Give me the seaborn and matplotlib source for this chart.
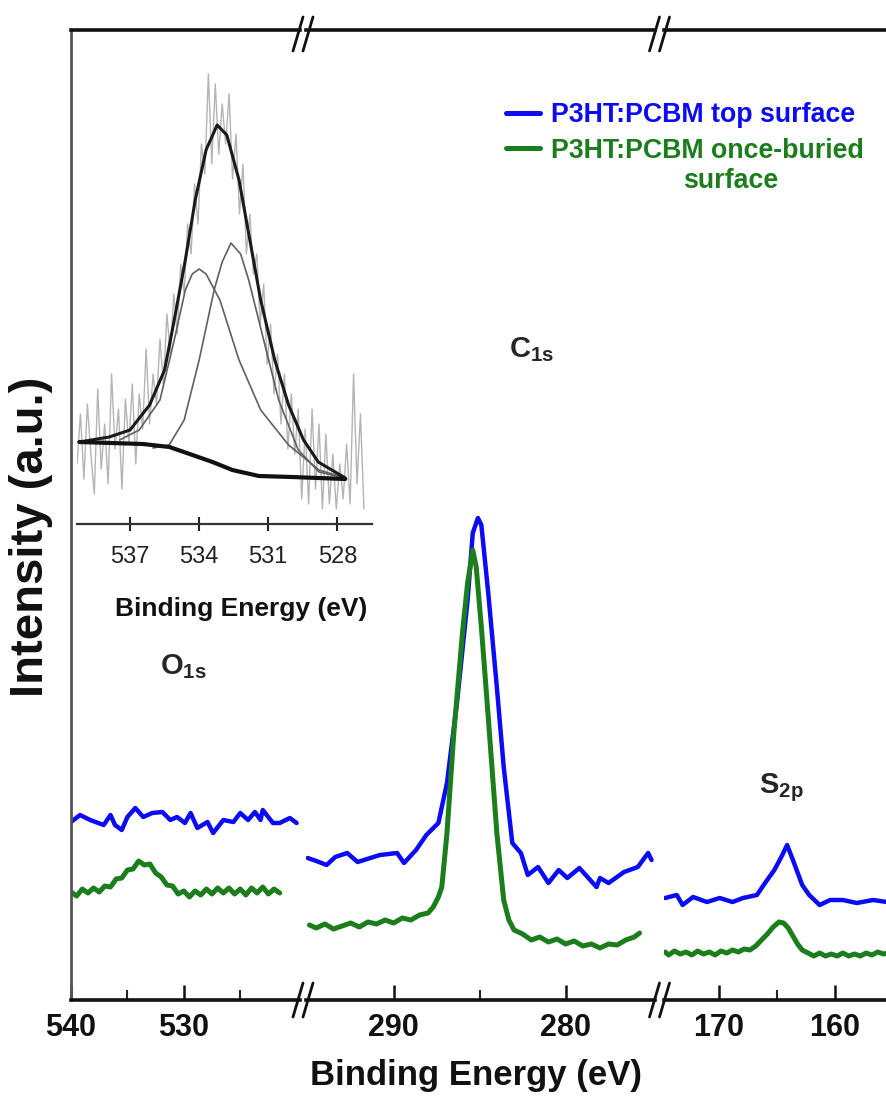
import numpy as np
import matplotlib
matplotlib.use("Agg")
import matplotlib.pyplot as plt
from matplotlib.lines import Line2D
import seaborn as sns

# ---------------- data (binding energy in eV, intensity in a.u.) ----------------
# O1s region
o1s_top_be = [540.0, 539.2, 538.3, 537.1, 536.5, 536.1, 535.5, 535.0, 534.3, 533.6, 532.8, 531.9,
              531.2, 530.6, 529.9, 529.4, 528.8, 527.9, 527.4, 526.5, 525.6, 525.0, 524.3, 523.7,
              523.2, 523.0, 522.1, 521.5, 520.6, 520.0]
o1s_top_int = [178, 185, 180, 175, 185, 175, 170, 183, 192, 183, 187, 188,
               180, 183, 177, 187, 172, 178, 167, 180, 178, 187, 180, 188,
               180, 190, 177, 177, 182, 177]
o1s_bur_be = [540.0, 539.5, 539.0, 538.5, 538.0, 537.5, 537.0, 536.5, 536.0, 535.5, 535.0, 534.5,
              534.0, 533.5, 533.0, 532.5, 532.0, 531.5, 531.0, 530.5, 530.0, 529.5, 529.0, 528.5,
              528.0, 527.5, 527.0, 526.5, 526.0, 525.5, 525.0, 524.5, 524.0, 523.5, 523.0, 522.5,
              522.0, 521.5]
o1s_bur_int = [108, 104, 111, 107, 112, 108, 114, 113, 121, 122, 130, 131,
               139, 135, 136, 127, 123, 115, 114, 106, 109, 103, 109, 105,
               111, 106, 112, 107, 112, 106, 111, 105, 112, 107, 113, 106,
               111, 107]
# C1s region
c1s_top_be = [295.0, 294.5, 293.9, 293.4, 292.7, 292.1, 290.8, 289.8, 289.4, 288.7, 288.1, 287.4,
              286.9, 286.3, 285.7, 285.4, 285.1, 284.9, 284.5, 284.0, 283.6, 283.1, 282.6, 282.2,
              281.6, 281.0, 280.4, 279.9, 279.2, 278.2, 278.0, 277.5, 276.6, 275.8, 275.2, 275.0]
c1s_top_int = [142, 139, 135, 143, 147, 138, 145, 147, 137, 150, 165, 177,
               217, 300, 400, 467, 482, 475, 407, 313, 233, 157, 147, 125,
               133, 117, 130, 122, 132, 113, 122, 117, 128, 133, 147, 140]
c1s_bur_be = [294.9, 294.5, 294.0, 293.5, 293.0, 292.5, 292.0, 291.5, 291.0, 290.5, 290.0, 289.5,
              289.0, 288.5, 288.0, 287.7, 287.4, 287.2, 286.9, 286.5, 286.0, 285.7, 285.4, 285.2,
              284.9, 284.5, 284.0, 283.6, 283.3, 283.0, 282.5, 282.0, 281.5, 281.0, 280.5, 280.0,
              279.5, 279.0, 278.5, 278.0, 277.5, 277.0, 276.5, 276.0, 275.7]
c1s_bur_int = [75, 72, 76, 71, 74, 77, 73, 78, 76, 80, 77, 82,
               80, 85, 87, 93, 103, 113, 167, 267, 367, 417, 450, 433,
               373, 283, 167, 100, 80, 70, 66, 60, 63, 58, 61, 56,
               59, 54, 56, 52, 56, 55, 60, 63, 67]
# S2p region
s2p_top_be = [174.6, 173.6, 173.1, 172.2, 171.0, 169.9, 168.8, 167.9, 166.7, 166.0, 165.2, 164.6,
              164.1, 163.6, 162.8, 162.2, 161.3, 160.4, 159.3, 158.1, 156.7, 155.5]
s2p_top_int = [102, 105, 95, 103, 98, 102, 98, 102, 105, 117, 130, 143,
               155, 140, 115, 105, 95, 100, 100, 97, 100, 98]
s2p_bur_be = [174.6, 174.3, 173.8, 173.3, 172.8, 172.3, 171.8, 171.3, 170.8, 170.3, 169.8, 169.3,
              168.8, 168.3, 167.8, 167.3, 166.8, 166.3, 165.8, 165.3, 164.8, 164.4, 164.0, 163.6,
              163.2, 162.8, 162.3, 161.8, 161.3, 160.8, 160.3, 159.8, 159.3, 158.8, 158.3, 157.8,
              157.3, 156.8, 156.3, 155.8, 155.4]
s2p_bur_int = [48, 45, 49, 46, 48, 45, 49, 46, 48, 45, 49, 47,
               50, 48, 51, 50, 54, 60, 66, 73, 78, 77, 72, 64,
               56, 50, 47, 44, 47, 44, 46, 44, 47, 44, 46, 44,
               47, 45, 48, 46, 47]

# Inset: O1s high-resolution spectrum with fit
raw_be_start, raw_be_stop = 539.3, 526.85
raw_int = [60, 110, 45, 120, 70, 30, 135, 55, 100, 40, 150, 75, 115, 35, 125, 80, 140, 60, 130, 95,
           175, 100, 150, 120, 185, 140, 210, 170, 230, 190, 260, 230, 300, 270, 340, 300, 380, 350,
           450, 360, 440, 370, 420, 380, 430, 345, 390, 310, 360, 270, 310, 250, 270, 200, 240, 160,
           200, 130, 170, 100, 150, 75, 130, 70, 115, 25, 95, 20, 115, 35, 100, 15, 90, 20, 70, 15,
           60, 25, 80, 20, 150, 40, 110, 15]
env_be = [539.2, 537.9, 537.0, 536.15, 535.5, 535.08, 534.6, 534.17, 533.7, 533.22, 532.8,
          532.27, 531.8, 531.33, 530.72, 530.12, 529.47, 528.83, 527.66]
env_int = [82, 87, 94, 119, 154, 204, 264, 324, 374, 399, 389, 344, 284, 224, 164, 119, 84, 62, 46]
comp1_be = [537.45, 536.6, 535.7, 535.08, 534.6, 534.3, 534.0, 533.7, 533.1, 532.27, 531.33,
            530.12, 528.8, 527.66]
comp1_int = [84, 94, 124, 184, 234, 250, 255, 250, 224, 164, 114, 79, 54, 46]
comp2_be = [536.0, 535.3, 534.65, 534.0, 533.35, 533.0, 532.62, 532.2, 531.85, 531.2, 530.55,
            529.7, 528.8, 527.66]
comp2_int = [76, 79, 104, 164, 234, 262, 281, 270, 244, 184, 124, 74, 52, 46]
bg_be = [539.2, 536.44, 535.29, 534.29, 533.42, 532.56, 531.41, 529.98, 527.66]
bg_int = [82, 80, 77, 69, 62, 54, 48, 47, 45]

main_ticks = [[540, 530], [290, 280], [170, 160]]
minor_ticks = [[535, 525], [285], [165]]
inset_ticks = [537, 534, 531, 528]
series_labels = ["P3HT:PCBM top surface", "P3HT:PCBM once-buried"]
peak_labels = [r"$\mathbf{O_{1s}}$", r"$\mathbf{C_{1s}}$", r"$\mathbf{S_{2p}}$"]

# ---------------- style ----------------
sns.set_theme(style="white")
plt.rcParams["font.family"] = ["Liberation Sans", "DejaVu Sans"]
plt.rcParams["mathtext.fontset"] = "custom"
plt.rcParams["mathtext.bf"] = "Liberation Sans:bold"
plt.rcParams["mathtext.rm"] = "Liberation Sans"
plt.rcParams["mathtext.it"] = "Liberation Sans:italic"

BLUE = "#0b0bf5"
GREEN = "#1b7d1b"
W, H = 887, 1107

def fx(x):
    return x / W

def fy(y):
    return 1 - y / H

fig = plt.figure(figsize=(W / 100, H / 100), dpi=100)

panels = [(71, 300), (306, 655), (664, 887)]
xlims = [(540.0, 519.7), (295.1, 274.8), (174.7, 155.5)]
top_px, bot_px = 30, 1000
data = [
    (o1s_top_be, o1s_top_int, o1s_bur_be, o1s_bur_int),
    (c1s_top_be, c1s_top_int, c1s_bur_be, c1s_bur_int),
    (s2p_top_be, s2p_top_int, s2p_bur_be, s2p_bur_int),
]
axes = []
for i, ((l, r), xl, d) in enumerate(zip(panels, xlims, data)):
    ax = fig.add_axes([fx(l), fy(bot_px), (r - l) / W, (bot_px - top_px) / H])
    ax.set_facecolor("none")
    tb, ti, bb, bi = d
    sns.lineplot(x=tb, y=ti, ax=ax, color=BLUE, lw=3.2, sort=False, estimator=None)
    sns.lineplot(x=bb, y=bi, ax=ax, color=GREEN, lw=3.6, sort=False, estimator=None)
    ax.set_xlim(*xl)
    ax.set_ylim(0, 970)
    ax.set_yticks([])
    ax.set_xticks(main_ticks[i])
    ax.set_xticks(minor_ticks[i], minor=True)
    ax.set_xticklabels([str(t) for t in main_ticks[i]], fontsize=22, fontweight="bold")
    ax.tick_params(axis="x", which="major", direction="in", length=11, width=1.8,
                   bottom=True, top=False, pad=9, colors="#111111")
    ax.tick_params(axis="x", which="minor", direction="in", length=7, width=1.5,
                   bottom=True, top=False)
    ax.set_xlabel("")
    ax.set_ylabel("")
    for s in ["top", "bottom"]:
        ax.spines[s].set_visible(True)
        ax.spines[s].set_color("#111111")
        ax.spines[s].set_linewidth(2.6)
    ax.spines["right"].set_visible(False)
    if i == 0:
        ax.spines["left"].set_visible(True)
        ax.spines["left"].set_color("#555555")
        ax.spines["left"].set_linewidth(2.0)
    else:
        ax.spines["left"].set_visible(False)
    axes.append(ax)

# peak labels
axes[0].text(530.0, 333, peak_labels[0], fontsize=21, ha="center", va="center")
axes[1].text(282.0, 650, peak_labels[1], fontsize=21, ha="center", va="center")
axes[2].text(164.6, 212, peak_labels[2], fontsize=21, ha="center", va="center")

# axis break marks
for xc in [303, 659.5]:
    for yc in [top_px + 4, bot_px]:
        for off in (-5, 5):
            fig.add_artist(Line2D([fx(xc + off - 5), fx(xc + off + 5)],
                                  [fy(yc + 17), fy(yc - 17)],
                                  color="#111111", lw=2.0))

# axis labels
fig.text(fx(476), fy(1076), "Binding Energy (eV)", fontsize=25, fontweight="bold",
         ha="center", va="center", color="#111111")
fig.text(fx(31), fy(537), "Intensity (a.u.)", fontsize=34, fontweight="bold",
         ha="center", va="center", rotation=90, color="#111111")

# legend
handles = [Line2D([], [], color=BLUE, lw=3.6), Line2D([], [], color=GREEN, lw=3.6)]
leg = fig.legend(handles, series_labels, loc="upper left", bbox_to_anchor=(fx(506), fy(102)),
                 frameon=False, prop={"weight": "bold", "size": 19.3}, handlelength=1.25,
                 handletextpad=0.42, labelspacing=0.36, borderpad=0, borderaxespad=0)
for t, c in zip(leg.get_texts(), [BLUE, GREEN]):
    t.set_color(c)
fig.text(fx(731), fy(181), "surface", fontsize=19.3, fontweight="bold", color=GREEN,
         ha="center", va="center")

# inset
ins = fig.add_axes([fx(77), fy(524), (372 - 77) / W, (524 - 54) / H])
ins.set_facecolor("none")
raw_be = np.linspace(raw_be_start, raw_be_stop, len(raw_int))
sns.lineplot(x=raw_be, y=raw_int, ax=ins, color="#b4b4b4", lw=1.0, sort=False, estimator=None)
sns.lineplot(x=comp1_be, y=comp1_int, ax=ins, color="#606060", lw=1.2, sort=False, estimator=None)
sns.lineplot(x=comp2_be, y=comp2_int, ax=ins, color="#606060", lw=1.2, sort=False, estimator=None)
sns.lineplot(x=env_be, y=env_int, ax=ins, color="#1a1a1a", lw=2.2, sort=False, estimator=None)
sns.lineplot(x=bg_be, y=bg_int, ax=ins, color="#111111", lw=3.0, sort=False, estimator=None)
ins.set_xlim(539.3, 526.5)
ins.set_ylim(0, 470)
ins.set_yticks([])
ins.set_xticks(inset_ticks)
ins.set_xticklabels([str(t) for t in inset_ticks], fontsize=17)
ins.tick_params(axis="x", direction="inout", length=10, width=1.5, bottom=True, pad=11,
                colors="#222222")
ins.set_xlabel("Binding Energy (eV)", fontsize=19, fontweight="bold", color="#111111")
ins.xaxis.set_label_coords(0.555, -0.155)
ins.set_ylabel("")
for s in ["top", "right", "left"]:
    ins.spines[s].set_visible(False)
ins.spines["bottom"].set_visible(True)
ins.spines["bottom"].set_color("#333333")
ins.spines["bottom"].set_linewidth(1.6)

fig.savefig("out.png", dpi=100)
